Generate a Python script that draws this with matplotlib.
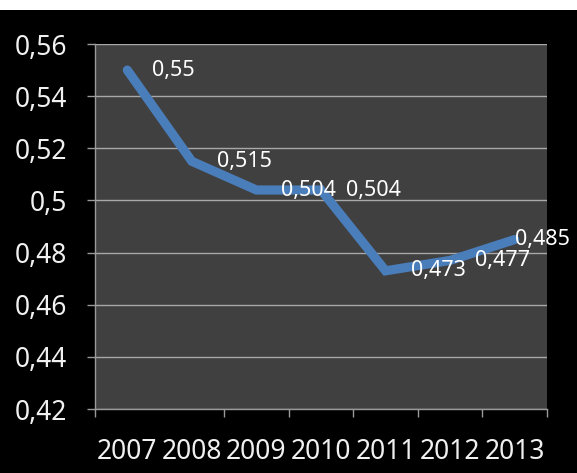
import matplotlib
matplotlib.use("Agg")
import matplotlib.pyplot as plt
from matplotlib.patches import Rectangle

years = ["2007", "2008", "2009", "2010", "2011", "2012", "2013"]
values = [0.55, 0.515, 0.504, 0.504, 0.473, 0.477, 0.485]
yticks = [0.42, 0.44, 0.46, 0.48, 0.50, 0.52, 0.54, 0.56]

plt.rcParams['font.family'] = ['Noto Sans', 'DejaVu Sans']


def comma(v):
    s = ("%.3f" % v).rstrip("0").rstrip(".")
    return s.replace(".", ",")


fig = plt.figure(figsize=(5.77, 4.73), dpi=100, facecolor="black")
# white strip at the top of the screenshot
fig.patches.append(Rectangle((0, 1 - 10 / 473), 1, 10 / 473, transform=fig.transFigure,
                             facecolor="white", edgecolor="none", zorder=0))

ax = fig.add_axes([95 / 577, 1 - 409 / 473, 452 / 577, 365 / 473])
ax.set_facecolor("#404040")

x = list(range(len(years)))
ax.plot(x, values, color="#4a7ebb", linewidth=6.6, solid_capstyle="round",
        solid_joinstyle="miter", zorder=3)
for i, (xi, v) in enumerate(zip(x, values)):
    dx = 0 if i == len(values) - 1 else 25  # last label pushed in by Excel
    ax.annotate(comma(v), (xi, v), xytext=(dx, 0), textcoords="offset pixels",
                ha="left", va="center", color="white", fontsize=15.5,
                annotation_clip=False, zorder=4)

ax.set_xlim(-0.5, len(years) - 0.5)
ax.set_ylim(0.42, 0.56)
ax.set_yticks(yticks)
ax.set_yticklabels([comma(t) for t in yticks])
ax.yaxis.grid(True, color="#a8a8a8", linewidth=1.0)
ax.set_axisbelow(True)

# boundary ticks (the one between 2007 and 2008 is not drawn in the original)
bounds = [i - 0.5 for i in range(len(years) + 1)]
ax.set_xticks([b for b in bounds if b != 0.5])
ax.set_xticklabels([])
ax.set_xticks(x, minor=True)
ax.set_xticklabels(years, minor=True)
ax.tick_params(axis="x", which="minor", length=0, pad=21, labelsize=19, labelcolor="#f0f0f0")
ax.tick_params(axis="x", which="major", length=5.8, color="#9a9a9a", width=1)
ax.tick_params(axis="y", length=5.8, color="#9a9a9a", width=1, pad=14,
               labelsize=19, labelcolor="#f0f0f0")

for side in ["top", "right"]:
    ax.spines[side].set_visible(False)
for side in ["left", "bottom"]:
    ax.spines[side].set_color("#9a9a9a")
    ax.spines[side].set_linewidth(1)

fig.savefig("out.png", dpi=100, facecolor="black")
